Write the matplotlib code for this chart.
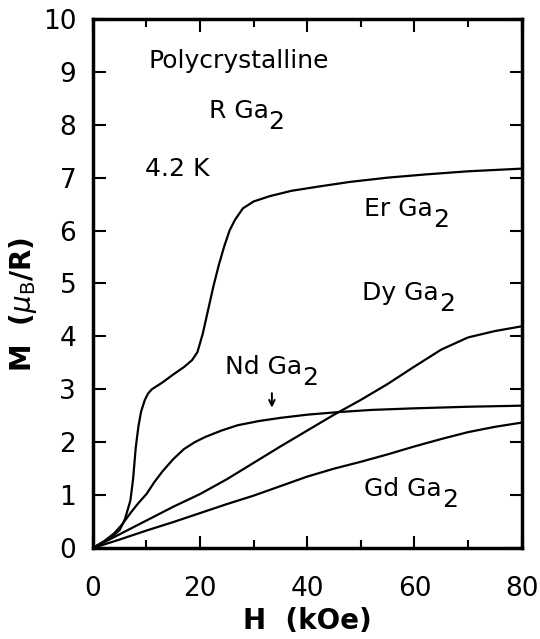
import matplotlib
matplotlib.use('Agg')
import matplotlib.pyplot as plt

# magnetization curves (H in kOe, M in muB/R)
h_er = [0, 2, 4, 5, 6, 7, 7.5, 8, 8.5, 9, 9.7, 10.3, 11, 13, 15, 17, 18.5, 19.5, 20.5, 21.5,
        22.5, 23.5, 24.5, 25.5, 26.5, 28, 30, 33, 37, 42, 48, 55, 62, 70, 80]
m_er = [0, 0.12, 0.25, 0.34, 0.55, 0.9, 1.3, 1.9, 2.3, 2.58, 2.8, 2.92, 3.0, 3.13, 3.28, 3.42, 3.55,
        3.7, 4.05, 4.5, 4.95, 5.35, 5.7, 6.0, 6.2, 6.42, 6.55, 6.65, 6.75, 6.83, 6.92,
        7.0, 7.06, 7.12, 7.17]

h_nd = [0, 2, 4, 5.5, 7, 8.5, 10, 11.5, 13, 15, 17, 19, 21, 24, 27, 31, 35, 40, 46, 52, 60, 70, 80]
m_nd = [0, 0.12, 0.28, 0.45, 0.66, 0.85, 1.02, 1.25, 1.45, 1.68, 1.87, 2.0, 2.1, 2.22,
        2.32, 2.4, 2.46, 2.52, 2.57, 2.61, 2.64, 2.67, 2.69]

h_dy = [0, 5, 10, 15, 20, 25, 30, 35, 40, 45, 50, 55, 60, 65, 70, 75, 80]
m_dy = [0, 0.26, 0.52, 0.78, 1.02, 1.3, 1.61, 1.92, 2.22, 2.52, 2.8, 3.1, 3.43, 3.75, 3.98, 4.1, 4.19]

h_gd = [0, 5, 10, 15, 20, 25, 30, 35, 40, 45, 50, 55, 60, 65, 70, 75, 80]
m_gd = [0, 0.16, 0.33, 0.49, 0.66, 0.83, 0.99, 1.17, 1.35, 1.5, 1.63, 1.77, 1.92, 2.06, 2.19, 2.29, 2.37]

x_ticks = [0, 20, 40, 60, 80]
y_ticks = list(range(0, 11))

# label text, position of its left edge (H, M)
labels = [('Er Ga', 50.6, 6.4), ('Dy Ga', 50.3, 4.82), ('Nd Ga', 24.7, 3.42),
          ('Gd Ga', 50.6, 1.11), ('R Ga', 21.6, 8.26)]

plt.rcParams['font.family'] = ['DejaVu Sans']

fig = plt.figure(figsize=(5.4, 6.39), dpi=100)
ax = fig.add_axes([0.172, 0.1424, 0.794, 0.828])

for h, m in [(h_er, m_er), (h_nd, m_nd), (h_dy, m_dy), (h_gd, m_gd)]:
    ax.plot(h, m, color='black', lw=1.6, solid_capstyle='round')

ax.set_xlim(0, 80)
ax.set_ylim(0, 10)
ax.set_xticks(x_ticks)
ax.set_xticks([10, 30, 50, 70], minor=True)
ax.set_yticks(y_ticks)
ax.tick_params(which='both', direction='in', top=True, right=True, width=1.5, labelsize=19)
ax.tick_params(which='major', length=9)
ax.tick_params(which='minor', length=6)
ax.tick_params(axis='x', pad=20)
ax.tick_params(axis='y', pad=12)
for s in ax.spines.values():
    s.set_linewidth(2.5)

ax.set_xlabel('H  (kOe)', fontsize=20, fontweight='bold')
ax.xaxis.set_label_coords(0.5, -0.112)
ax.set_ylabel(r'M  ($\mu_{\rm B}$/R)', fontsize=20, fontweight='bold')
ax.yaxis.set_label_coords(-0.125, 0.46)

ax.text(10.3, 9.2, 'Polycrystalline', fontsize=18, va='center', ha='left')
ax.text(9.7, 7.17, '4.2 K', fontsize=18, va='center', ha='left')

for txt, x, y in labels:
    t = ax.text(x, y, txt, fontsize=18, va='center', ha='left')
    ax.annotate('2', xy=(1, 0.5), xycoords=t, xytext=(0, -8), textcoords='offset points',
                fontsize=18, va='center', ha='left')

ax.annotate('', xy=(33.4, 2.6), xytext=(33.4, 2.98),
            arrowprops=dict(arrowstyle='->', color='black', lw=1.4))

fig.savefig('out.png', dpi=100)
